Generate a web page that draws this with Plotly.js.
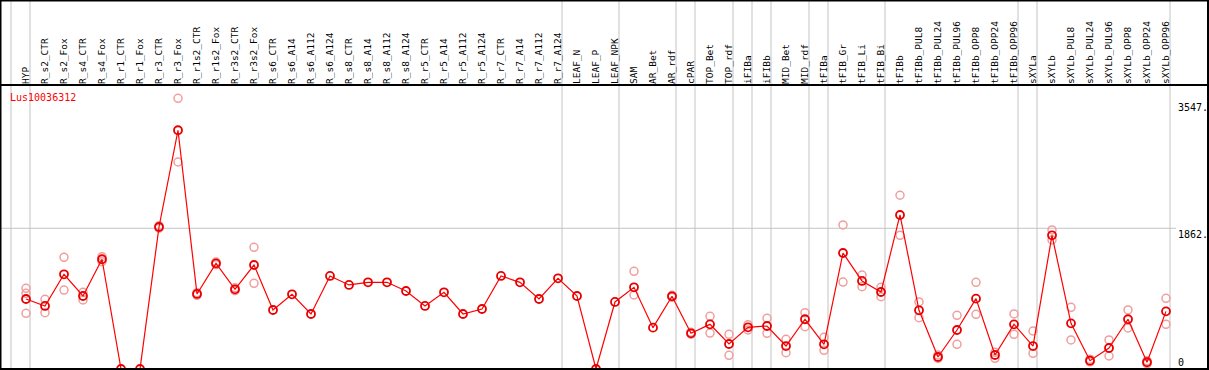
<!DOCTYPE html>
<html>
<head>
<meta charset="utf-8">
<script src="https://cdn.plot.ly/plotly-3.0.1.min.js"></script>
<style>html,body{margin:0;padding:0;background:#fff;}#chart{width:1209px;height:370px;}</style>
</head>
<body>
<div id="chart"></div>
<script>
const geneName = "Lus10036312";
const categories = ["HYP","R_s2_CTR","R_s2_Fox","R_s4_CTR","R_s4_Fox","R_r1_CTR","R_r1_Fox","R_r3_CTR","R_r3_Fox","R_r1s2_CTR","R_r1s2_Fox","R_r3s2_CTR","R_r3s2_Fox","R_s6_CTR","R_s6_A14","R_s6_A112","R_s6_A124","R_s8_CTR","R_s8_A14","R_s8_A112","R_s8_A124","R_r5_CTR","R_r5_A14","R_r5_A112","R_r5_A124","R_r7_CTR","R_r7_A14","R_r7_A112","R_r7_A124","LEAF_N","LEAF_P","LEAF_NPK","SAM","AR_Bet","AR_rdf","cPAR","TOP_Bet","TOP_rdf","iFIBa","iFIBb","MID_Bet","MID_rdf","tFIBa","tFIB_Gr","tFIB_Li","tFIB_Bi","tFIBb","tFIBb_PUL8","tFIBb_PUL24","tFIBb_PUL96","tFIBb_OPP8","tFIBb_OPP24","tFIBb_OPP96","sXYLa","sXYLb","sXYLb_PUL8","sXYLb_PUL24","sXYLb_PUL96","sXYLb_OPP8","sXYLb_OPP24","sXYLb_OPP96"];
const meanValues = [926,834,1253,966,1452,0,0,1879,3159,993,1398,1054,1376,781,988,728,1231,1112,1147,1147,1032,834,1015,728,794,1231,1147,926,1200,966,0,887,1081,547,962,472,591,331,552,569,304,658,327,1535,1165,1019,2038,777,159,516,931,185,591,304,1769,604,110,278,658,89,763];
const replicate1 = [1068,922,1478,1015,1486,null,null,1895,3582,1010,1415,1075,1610,null,null,null,null,null,null,null,null,null,null,null,null,null,null,null,null,null,null,null,1293,null,975,485,697,459,587,671,393,745,419,1906,1244,1081,2299,887,185,711,1147,221,728,503,1840,816,130,384,781,110,935];
const replicate2 = [1002,745,1045,913,1420,null,null,1863,2739,975,1380,1037,1134,null,null,null,null,null,null,null,null,null,null,null,null,null,null,null,null,null,null,null,979,null,950,460,476,181,517,472,216,560,247,1151,1089,957,1769,679,140,327,724,141,459,207,1707,384,95,172,543,70,591];
const replicate3 = [737,null,null,null,null,null,null,null,null,null,null,null,null,null,null,null,null,null,null,null,null,null,null,null,null,null,null,null,null,null,null,null,null,null,null,null,null,null,null,null,null,null,null,null,null,null,null,null,null,null,null,null,null,null,null,null,null,null,null,null,null];
const axisLabels = ["3547.","1862.","0"];
const axisLabelValues = [3547,1862,0];
const gridValue = 1862;
// indices of the last category in each group (separator drawn just after it)
const groupEnds = [-1,0,28,31,34,35,37,38,39,41,42,45,52,53,60];

const W = 1209, H = 370;
const mL = 1, mR = 1, mT = 85, mB = 1;
const pw = W - mL - mR, ph = H - mT - mB;
const step = 19;
const xr0 = -(26 - mL) / step;
const xr1 = xr0 + pw / step;
const yTop = 3758;
const px2paperX = p => (p - mL) / pw;
const py2paperY = p => (H - mB - p) / ph;

const repColor = 'rgb(240,158,158)';
const repTraces = [replicate1, replicate2, replicate3].map(r => ({
  x: categories, y: r, type: 'scatter', mode: 'markers', hoverinfo: 'skip',
  marker: {symbol: 'circle-open', size: 8, color: repColor, line: {width: 1.5, color: repColor}},
  showlegend: false
}));
const meanTrace = {
  x: categories, y: meanValues, type: 'scatter', mode: 'lines+markers',
  line: {color: '#ff0000', width: 1.2},
  marker: {symbol: 'circle-open', size: 8, color: '#e80000', line: {width: 1.8, color: '#e80000'}},
  showlegend: false
};

const shapes = [];
groupEnds.forEach(i => {
  shapes.push({type: 'line', xref: 'x', yref: 'paper', x0: i + 4/step, x1: i + 4/step,
    y0: py2paperY(370), y1: py2paperY(0), line: {color: '#c4c4c4', width: 1}, layer: 'below'});
});
shapes.push({type: 'line', xref: 'paper', yref: 'y', x0: px2paperX(0), x1: px2paperX(1176),
  y0: gridValue, y1: gridValue, line: {color: '#c4c4c4', width: 1}, layer: 'below'});
const black = {color: '#000', width: 2};
shapes.push({type: 'line', xref: 'paper', yref: 'paper', x0: px2paperX(0), x1: px2paperX(W), y0: py2paperY(0.5), y1: py2paperY(0.5), line: black});
shapes.push({type: 'line', xref: 'paper', yref: 'paper', x0: px2paperX(0), x1: px2paperX(W), y0: py2paperY(85), y1: py2paperY(85), line: black});
shapes.push({type: 'line', xref: 'paper', yref: 'paper', x0: px2paperX(0), x1: px2paperX(W), y0: py2paperY(369), y1: py2paperY(369), line: black});
shapes.push({type: 'line', xref: 'paper', yref: 'paper', x0: px2paperX(0.5), x1: px2paperX(0.5), y0: py2paperY(0), y1: py2paperY(370), line: black});
shapes.push({type: 'line', xref: 'paper', yref: 'paper', x0: px2paperX(1208), x1: px2paperX(1208), y0: py2paperY(0), y1: py2paperY(370), line: black});

const mono = 'DejaVu Sans Mono, monospace';
const annotations = axisLabels.map((t, k) => ({
  text: t, xref: 'paper', yref: 'y', x: px2paperX(1177), y: axisLabelValues[k],
  xanchor: 'left', yanchor: k === 2 ? 'bottom' : 'top', showarrow: false,
  font: {family: mono, size: 10, color: '#000'}, borderpad: 0
}));
annotations.push({text: geneName, xref: 'paper', yref: 'paper', x: px2paperX(9), y: py2paperY(91),
  xanchor: 'left', yanchor: 'top', showarrow: false, borderpad: 0,
  font: {family: mono, size: 10, color: '#ff0000'}});

const layout = {
  width: W, height: H,
  margin: {l: mL, r: mR, t: mT, b: mB, pad: 0},
  paper_bgcolor: '#fff', plot_bgcolor: '#fff',
  showlegend: false,
  xaxis: {type: 'category', range: [xr0, xr1], side: 'top', tickangle: -90,
    showgrid: false, zeroline: false, showline: false, ticks: '',
    tickfont: {family: mono, size: 9.5, color: '#000'}, fixedrange: true},
  yaxis: {range: [0, yTop], showgrid: false, zeroline: false, showline: false,
    showticklabels: false, ticks: '', fixedrange: true},
  shapes: shapes,
  annotations: annotations
};

Plotly.newPlot('chart', repTraces.concat([meanTrace]), layout, {displayModeBar: false, staticPlot: true});
</script>
</body>
</html>
